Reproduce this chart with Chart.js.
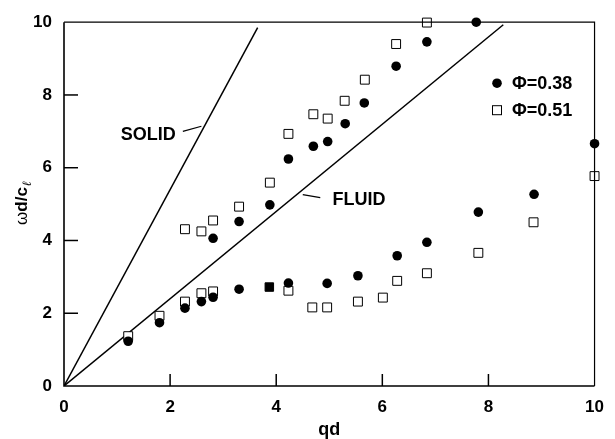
<!DOCTYPE html>
<html>
<head>
<meta charset="utf-8">
<script src="https://cdn.jsdelivr.net/npm/chart.js@4"></script>
<style>
html,body{margin:0;padding:0;background:#fff;}
#wrap{width:615px;height:439px;}
</style>
</head>
<body>
<div id="wrap"><canvas id="c" width="615" height="439"></canvas></div>
<script>
// ---- data ----
const phi038X = [2.81,3.30,3.88,4.23,4.70,4.97,5.30,5.66,6.26,6.84,7.77,
                 1.21,1.80,2.28,2.59,2.81,3.30,4.23,4.96,5.54,6.28,6.84,7.81,8.86,10.0];
const phi038Y = [4.06,4.52,4.98,6.24,6.59,6.72,7.21,7.78,8.79,9.46,10.0,
                 1.23,1.74,2.14,2.32,2.44,2.66,2.83,2.82,3.03,3.58,3.95,4.78,5.27,6.66];
const phi051X = [2.28,2.59,2.81,3.30,3.88,4.23,4.70,4.97,5.29,5.67,6.26,6.84,
                 1.21,1.80,2.28,2.59,2.81,4.23,4.68,4.96,5.54,6.01,6.28,6.84,7.81,8.85,10.0];
const phi051Y = [4.31,4.25,4.55,4.93,5.59,6.93,7.47,7.35,7.84,8.42,9.40,9.99,
                 1.37,1.93,2.32,2.55,2.60,2.62,2.16,2.16,2.32,2.43,2.89,3.10,3.66,4.50,5.77];
const overlapX = [3.87];
const overlapY = [2.72];
const solidLineX = [0, 3.65];
const solidLineY = [0, 9.85];
const fluidLineX = [0, 8.28];
const fluidLineY = [0, 9.93];
const xTickValues = [0,2,4,6,8,10];
const yTickValues = [0,2,4,6,8,10];
const seriesLabels = ['\u03A6=0.38','\u03A6=0.51'];
const lineLabels = ['SOLID','FLUID'];
const xTitle = 'qd';
const yTitleOmega = '\u03C9';
const yTitleMain = 'd/c';
const yTitleSub = '\u2113';
// annotation anchors in data units: text position and leader line
const annoText = [[1.59,6.89],[5.06,5.10]];
const annoLead = [[[2.24,7.00],[2.59,7.14]],[[4.50,5.26],[4.83,5.18]]];

const pts = (xs, ys) => xs.map((x,i)=>({x:x, y:ys[i]}));
const FONT = '"Liberation Sans", Arial, Helvetica, sans-serif';

const decor = {
  id:'decor',
  afterDatasetsDraw(chart){
    const {ctx, chartArea:a, scales:{x, y}} = chart;
    ctx.save();
    ctx.strokeStyle = '#000';
    // frame
    ctx.lineWidth = 1.6;
    ctx.beginPath();
    ctx.moveTo(a.left, a.top); ctx.lineTo(a.left, a.bottom); ctx.lineTo(a.right, a.bottom);
    ctx.stroke();
    ctx.lineWidth = 1.2;
    ctx.beginPath();
    ctx.moveTo(a.left, a.top); ctx.lineTo(a.right, a.top); ctx.lineTo(a.right, a.bottom);
    ctx.stroke();
    // inward ticks
    ctx.lineWidth = 1.5;
    xTickValues.forEach(v=>{
      if (v===xTickValues[0] || v===xTickValues[xTickValues.length-1]) return;
      const px = x.getPixelForValue(v);
      ctx.beginPath(); ctx.moveTo(px, a.bottom); ctx.lineTo(px, a.bottom-12); ctx.stroke();
    });
    yTickValues.forEach(v=>{
      if (v===yTickValues[0] || v===yTickValues[yTickValues.length-1]) return;
      const py = y.getPixelForValue(v);
      ctx.beginPath(); ctx.moveTo(a.left, py); ctx.lineTo(a.left+14, py); ctx.stroke();
    });
    // annotations
    ctx.fillStyle = '#000';
    ctx.font = 'bold 18px ' + FONT;
    ctx.textBaseline = 'middle';
    ctx.lineWidth = 1.2;
    annoText.forEach((p,i)=>{
      const px = x.getPixelForValue(p[0]), py = y.getPixelForValue(p[1]);
      ctx.textAlign = i===0 ? 'center' : 'left';
      ctx.fillText(lineLabels[i], px, py);
      const l = annoLead[i];
      ctx.beginPath();
      ctx.moveTo(x.getPixelForValue(l[0][0]), y.getPixelForValue(l[0][1]));
      ctx.lineTo(x.getPixelForValue(l[1][0]), y.getPixelForValue(l[1][1]));
      ctx.stroke();
    });
    // legend
    const lx = a.left + 433, ly1 = a.top + 61, ly2 = a.top + 88;
    ctx.beginPath(); ctx.arc(lx, ly1, 4.8, 0, Math.PI*2); ctx.fill();
    ctx.fillStyle = '#fff'; ctx.lineWidth = 1;
    ctx.fillRect(lx-4.5, ly2-4.5, 9, 9); ctx.strokeRect(lx-4.5, ly2-4.5, 9, 9);
    ctx.fillStyle = '#000';
    ctx.textAlign = 'left';
    ctx.fillText(seriesLabels[0], lx+15, ly1+1);
    ctx.fillText(seriesLabels[1], lx+15, ly2+1);
    // axis titles
    ctx.textAlign = 'center';
    ctx.fillText(xTitle, (a.left+a.right)/2, 430);
    ctx.save();
    ctx.translate(22, (a.top+a.bottom)/2);
    ctx.rotate(-Math.PI/2);
    ctx.font = '17px ' + FONT;
    const w0 = ctx.measureText(yTitleOmega).width;
    ctx.font = 'bold 17px ' + FONT;
    const w1 = ctx.measureText(yTitleMain).width;
    ctx.font = 'italic 12px ' + FONT;
    const w2 = ctx.measureText(yTitleSub).width;
    const start = -(w0+w1+w2)/2;
    ctx.textAlign = 'left';
    ctx.font = '17px ' + FONT;
    ctx.fillText(yTitleOmega, start, 0);
    ctx.font = 'bold 17px ' + FONT;
    ctx.fillText(yTitleMain, start + w0, 0);
    ctx.font = 'italic 12px ' + FONT;
    ctx.fillText(yTitleSub, start + w0 + w1 + 1, 6);
    ctx.restore();
    ctx.restore();
  }
};

new Chart(document.getElementById('c'), {
  type:'scatter',
  data:{
    datasets:[
      {label:seriesLabels[0], data:pts(phi038X, phi038Y), pointStyle:'circle', pointRadius:4.8,
       backgroundColor:'#000', borderColor:'#000', borderWidth:0, clip:false, order:0},
      {label:'overlap', data:pts(overlapX, overlapY), pointStyle:'rect', pointRadius:6,
       backgroundColor:'#000', borderColor:'#000', borderWidth:1, clip:false, order:1},
      {label:seriesLabels[1], data:pts(phi051X, phi051Y), pointStyle:'rect', pointRadius:6.3,
       backgroundColor:'#fff', borderColor:'#000', borderWidth:1, clip:false, order:2},
      {label:lineLabels[0], data:pts(solidLineX, solidLineY), showLine:true, pointRadius:0,
       borderColor:'#000', borderWidth:1.5, order:3},
      {label:lineLabels[1], data:pts(fluidLineX, fluidLineY), showLine:true, pointRadius:0,
       borderColor:'#000', borderWidth:1.5, order:4}
    ]
  },
  options:{
    responsive:false, animation:false,
    layout:{padding:{top:19, right:11, left:0, bottom:0}},
    plugins:{legend:{display:false}, tooltip:{enabled:false}},
    scales:{
      x:{type:'linear', min:0, max:10,
         afterFit(s){ s.height = 53; },
         afterBuildTicks(s){ s.ticks = xTickValues.map(v=>({value:v})); },
         grid:{display:false, drawTicks:false}, border:{display:false},
         ticks:{color:'#000', font:{family:FONT, size:17, weight:'bold'}, padding:11, maxRotation:0}},
      y:{type:'linear', min:0, max:10,
         afterFit(s){ s.width = 64; },
         afterBuildTicks(s){ s.ticks = yTickValues.map(v=>({value:v})); },
         grid:{display:false, drawTicks:false}, border:{display:false},
         ticks:{color:'#000', font:{family:FONT, size:17, weight:'bold'}, padding:12}}
    }
  },
  plugins:[decor]
});
</script>
</body>
</html>
